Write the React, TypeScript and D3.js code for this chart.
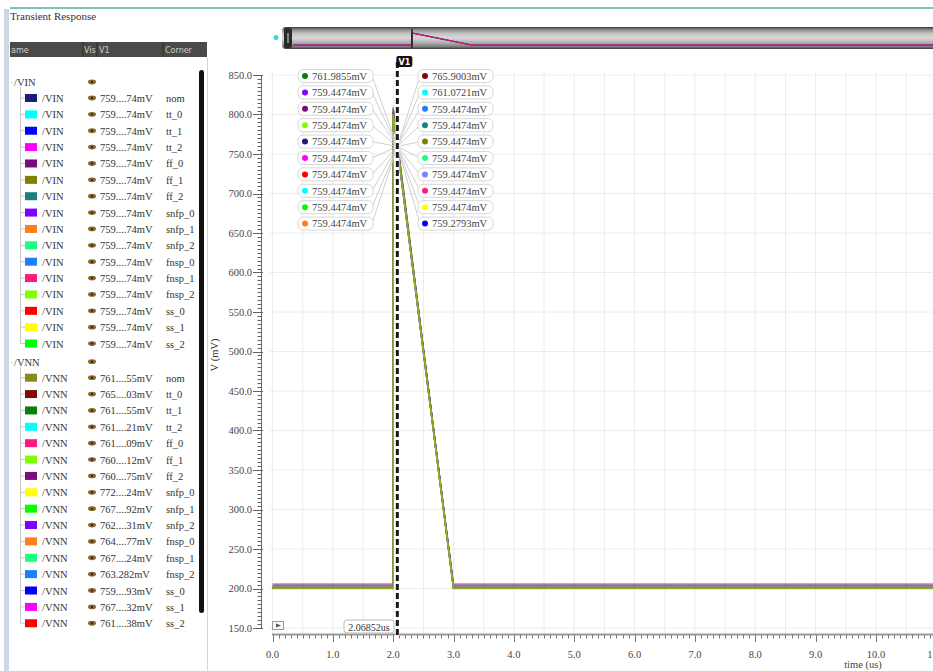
import React from 'react';
import * as d3 from 'd3';

// corner names shared by both signal groups
const corners = ['nom', 'tt_0', 'tt_1', 'tt_2', 'ff_0', 'ff_1', 'ff_2', 'snfp_0', 'snfp_1', 'snfp_2', 'fnsp_0', 'fnsp_1', 'fnsp_2', 'ss_0', 'ss_1', 'ss_2'];

const vinColors = ['#1c1c7c', '#00ffff', '#0000ff', '#ff00ff', '#7c0a7c', '#808000', '#1a7f7f', '#7f00ff', '#ff7f1a', '#1aff80', '#1a80ff', '#ff1a80', '#80ff00', '#ff0000', '#ffff00', '#00ff00'];
const vinValues = ['759....74mV', '759....74mV', '759....74mV', '759....74mV', '759....74mV', '759....74mV', '759....74mV', '759....74mV', '759....74mV', '759....74mV', '759....74mV', '759....74mV', '759....74mV', '759....74mV', '759....74mV', '759....74mV'];
const vinLevels = [200.6, 200.4, 200.2, 200.6, 200.8, 200.5, 200.3, 200.7, 200.1, 200.6, 200.4, 200.8, 200.2, 200.5, 200.3, 200.6];
const vinPeaks = [800.5, 800.5, 800.5, 800.5, 800.5, 800.5, 800.5, 800.5, 800.5, 800.5, 800.5, 800.5, 800.5, 800.5, 800.5, 800.5];

const vnnColors = ['#8a8a1e', '#7f0a0a', '#0a7f0a', '#00ffff', '#ff1a80', '#80ff00', '#7f0a7f', '#ffff00', '#00ff00', '#7f00ff', '#ff7f1a', '#1aff80', '#1a80ff', '#0000ff', '#ff00ff', '#ff0000'];
const vnnValues = ['761....55mV', '765....03mV', '761....55mV', '761....21mV', '761....09mV', '760....12mV', '760....75mV', '772....24mV', '767....92mV', '762....31mV', '764....77mV', '767....24mV', '763.282mV', '759....93mV', '767....32mV', '761....38mV'];
const vnnLevels = [201.2, 201.6, 203.6, 201.0, 201.4, 201.2, 205.6, 201.8, 201.6, 201.4, 201.2, 201.6, 201.0, 200.8, 201.6, 201.2];
const vnnPeaks = [802.5, 807.4, 802.5, 802.0, 802.0, 801.0, 801.0, 806.0, 809.0, 803.5, 806.0, 809.0, 805.0, 800.3, 809.0, 802.5];
// plot draw order for VNN (purple and green end up on top of the flat segments)
const vnnDrawOrder = [0, 1, 3, 4, 5, 7, 8, 9, 10, 11, 12, 13, 14, 15, 6, 2];

// pulse edges (us)
const edgeTimes = [0, 2.0, 2.0, 3.0, 11.5];

const cursorTime = 2.06852;
const cursorValue = 759.4474;

const leftLabels = ['761.9855mV', '759.4474mV', '759.4474mV', '759.4474mV', '759.4474mV', '759.4474mV', '759.4474mV', '759.4474mV', '759.4474mV', '759.4474mV'];
const leftLabelColors = ['#0a7f0a', '#7f00ff', '#7c0a7c', '#80ff00', '#1c1c7c', '#ff00ff', '#ff0000', '#00ffff', '#00ff00', '#ff7f1a'];
const rightLabels = ['765.9003mV', '761.0721mV', '759.4474mV', '759.4474mV', '759.4474mV', '759.4474mV', '759.4474mV', '759.4474mV', '759.4474mV', '759.2793mV'];
const rightLabelColors = ['#7f0a0a', '#00ffff', '#1a80ff', '#1a7f7f', '#808000', '#1aff80', '#8080ff', '#ff1a80', '#ffff00', '#0000ff'];

const yTicks = [150, 200, 250, 300, 350, 400, 450, 500, 550, 600, 650, 700, 750, 800, 850];
const xTicks = [0, 1, 2, 3, 4, 5, 6, 7, 8, 9, 10, 11];

const SERIF = '"Liberation Serif", "DejaVu Serif", serif';

const App = () => {
    const svgRef = React.useRef<SVGSVGElement>(null);

    React.useEffect(() => {
        const svg = d3.select(svgRef.current);
        svg.selectAll('*').remove();

        const x = d3.scaleLinear().domain([0, 10]).range([272.5, 876]);
        const y = d3.scaleLinear().domain([150, 850]).range([628, 75]);

        const defs = svg.append('defs');
        defs.append('clipPath').attr('id', 'plotClip')
            .append('rect').attr('x', 268).attr('y', 70).attr('width', 665).attr('height', 564);
        defs.append('clipPath').attr('id', 'ovClip')
            .append('rect').attr('x', 293).attr('y', 29).attr('width', 640).attr('height', 18);
        const grad = defs.append('linearGradient').attr('id', 'barGrad')
            .attr('x1', 0).attr('y1', 0).attr('x2', 0).attr('y2', 1);
        [[0, '#3a3a36'], [0.12, '#8a8a88'], [0.3, '#c4c4c4'], [0.5, '#d8d8d8'], [0.75, '#a8a8a8'], [0.9, '#7a7a78'], [1, '#3a3a36']]
            .forEach(([o, c]) => grad.append('stop').attr('offset', o as number).attr('stop-color', c as string));

        // window frame
        svg.append('line').attr('x1', 10).attr('x2', 933).attr('y1', 8).attr('y2', 8)
            .attr('stroke', '#7ec4bc').attr('stroke-width', 2);
        svg.append('rect').attr('x', 4).attr('y', 9).attr('width', 5).attr('height', 662).attr('fill', '#cdd8e6');
        svg.append('line').attr('x1', 207.5).attr('x2', 207.5).attr('y1', 58).attr('y2', 671)
            .attr('stroke', '#d6d6d6');

        svg.append('text').attr('x', 10).attr('y', 20)
            .style('font-family', SERIF).style('font-size', '11px').attr('fill', '#333')
            .text('Transient Response');

        // ---------- left legend panel ----------
        const header = svg.append('g');
        header.append('rect').attr('x', 10).attr('y', 42).attr('width', 197).attr('height', 15).attr('fill', '#4a4a48');
        [83, 97, 163].forEach(sx => header.append('line').attr('x1', sx).attr('x2', sx).attr('y1', 42).attr('y2', 57).attr('stroke', '#2c2c2c'));
        [['ame', 11], ['Vis', 84], ['V1', 99], ['Corner', 165]].forEach(([t, hx]) =>
            header.append('text').attr('x', hx as number).attr('y', 53)
                .style('font-family', '"DejaVu Sans", sans-serif').style('font-size', '8px')
                .attr('fill', '#d0d0d0').text(t as string));

        const eye = (g: any, ex: number, ey: number) => {
            g.append('ellipse').attr('cx', ex).attr('cy', ey).attr('rx', 4).attr('ry', 2.4).attr('fill', '#8a6a34');
            g.append('circle').attr('cx', ex).attr('cy', ey).attr('r', 1.2).attr('fill', '#3a2a12');
        };

        const drawGroup = (gy: number, name: string, colors: string[], values: string[]) => {
            const g = svg.append('g').style('font-family', SERIF).style('font-size', '10.5px').attr('fill', '#333');
            const step = 16.37;
            const lastY = gy + 16 + step * (corners.length - 1);
            g.append('line').attr('x1', 20.5).attr('x2', 20.5).attr('y1', gy + 5).attr('y2', lastY)
                .attr('stroke', '#c8c8c8');
            g.append('text').attr('x', 10).attr('y', gy + 4).attr('fill', '#aaa').text('·');
            g.append('text').attr('x', 14).attr('y', gy + 4).text('/' + name);
            eye(g, 92, gy);
            corners.forEach((c, i) => {
                const ry = gy + 16 + step * i;
                g.append('line').attr('x1', 20.5).attr('x2', 25).attr('y1', ry).attr('y2', ry).attr('stroke', '#c8c8c8');
                g.append('rect').attr('x', 25).attr('y', ry - 4).attr('width', 12).attr('height', 8).attr('fill', colors[i]);
                g.append('text').attr('x', 42).attr('y', ry + 4).text('/' + name);
                eye(g, 92, ry);
                g.append('text').attr('x', 100).attr('y', ry + 4).text(values[i]);
                g.append('text').attr('x', 166).attr('y', ry + 4).text(c);
            });
        };
        drawGroup(82, 'VIN', vinColors, vinValues);
        drawGroup(361.7, 'VNN', vnnColors, vnnValues);

        svg.append('rect').attr('x', 199).attr('y', 70).attr('width', 5).attr('height', 543).attr('rx', 2.5).attr('fill', '#111');

        // ---------- plot ----------
        const grid = svg.append('g').attr('stroke', '#ececec').attr('stroke-width', 1);
        grid.selectAll('line.v').data(d3.range(0, 11.01, 0.5)).join('line').attr('class', 'v')
            .attr('x1', d => x(d)).attr('x2', d => x(d)).attr('y1', 73).attr('y2', 634);
        grid.selectAll('line.h').data(yTicks).join('line').attr('class', 'h')
            .attr('x1', 270).attr('x2', 933).attr('y1', d => y(d)).attr('y2', d => y(d));

        // y axis
        const yAxis = svg.append('g').attr('stroke', '#666').attr('stroke-width', 1);
        yAxis.append('line').attr('x1', 261.5).attr('x2', 261.5).attr('y1', y(850)).attr('y2', y(150));
        yAxis.selectAll('line.minor').data(d3.range(150, 851, 5)).join('line').attr('class', 'minor')
            .attr('x1', 257.5).attr('x2', 261.5).attr('y1', d => Math.round(y(d)) + 0.5).attr('y2', d => Math.round(y(d)) + 0.5);
        yAxis.selectAll('line.major').data(yTicks).join('line').attr('class', 'major')
            .attr('x1', 253).attr('x2', 263).attr('y1', d => Math.round(y(d)) + 0.5).attr('y2', d => Math.round(y(d)) + 0.5);
        svg.append('g').selectAll('text').data(yTicks).join('text')
            .attr('x', 252).attr('y', d => y(d) + 3.5).attr('text-anchor', 'end')
            .style('font-family', SERIF).style('font-size', '10.5px').attr('fill', '#444')
            .text(d => d3.format('.1f')(d));
        svg.append('text').attr('transform', 'translate(218,355) rotate(-90)').attr('text-anchor', 'middle')
            .style('font-family', SERIF).style('font-size', '10.5px').attr('fill', '#333').text('V (mV)');

        // x axis
        const xAxis = svg.append('g').attr('stroke', '#777');
        xAxis.append('line').attr('x1', 272).attr('x2', 933).attr('y1', 634.5).attr('y2', 634.5).attr('stroke', '#999').attr('stroke-width', 2);
        xAxis.selectAll('line.minor').data(d3.range(0, 11.05, 0.1)).join('line').attr('class', 'minor')
            .attr('x1', d => Math.round(x(d)) + 0.5).attr('x2', d => Math.round(x(d)) + 0.5).attr('y1', 635).attr('y2', 638.5);
        xAxis.selectAll('line.major').data(xTicks).join('line').attr('class', 'major')
            .attr('x1', d => Math.round(x(d)) + 0.5).attr('x2', d => Math.round(x(d)) + 0.5).attr('y1', 635).attr('y2', 642);
        svg.append('g').selectAll('text').data(xTicks).join('text')
            .attr('x', d => x(d)).attr('y', 658).attr('text-anchor', 'middle')
            .style('font-family', SERIF).style('font-size', '10.5px').attr('fill', '#444')
            .text(d => d3.format('.1f')(d));
        svg.append('text').attr('x', 863).attr('y', 668).attr('text-anchor', 'middle')
            .style('font-family', SERIF).style('font-size', '10.5px').attr('fill', '#444').text('time (us)');

        // series
        const line = d3.line<[number, number]>().x(d => x(d[0])).y(d => y(d[1]));
        const pulse = (low: number, peak: number): [number, number][] =>
            edgeTimes.map((t, i) => [t, i === 2 ? peak : low]);
        const plot = svg.append('g').attr('clip-path', 'url(#plotClip)').attr('fill', 'none');
        vnnDrawOrder.forEach(i => plot.append('path').attr('d', line(pulse(vnnLevels[i], vnnPeaks[i])))
            .attr('stroke', vnnColors[i]).attr('stroke-width', 1.2).attr('stroke-opacity', 0.75));
        vinColors.forEach((c, i) => plot.append('path').attr('d', line(pulse(vinLevels[i], vinPeaks[i])))
            .attr('stroke', c).attr('stroke-width', 1.6).attr('stroke-opacity', 0.3));

        // cursor label leaders + boxes
        const cx = x(cursorTime);
        const cy = y(cursorValue);
        const rowY = (i: number) => 76 + i * 16.4;
        const leaders = svg.append('g').attr('stroke', '#cfcfcf').attr('stroke-width', 1);
        leftLabels.forEach((_, i) => leaders.append('line').attr('x1', 372).attr('y1', rowY(i)).attr('x2', cx).attr('y2', cy));
        rightLabels.forEach((_, i) => leaders.append('line').attr('x1', 420).attr('y1', rowY(i)).attr('x2', cx).attr('y2', cy));

        const labelBox = (bx: number, i: number, t: string, c: string) => {
            const g = svg.append('g');
            g.append('rect').attr('x', bx).attr('y', rowY(i) - 6.5).attr('width', 75).attr('height', 13).attr('rx', 5)
                .attr('fill', '#fff').attr('stroke', '#d8d8d8');
            g.append('circle').attr('cx', bx + 7).attr('cy', rowY(i)).attr('r', 3).attr('fill', c);
            g.append('text').attr('x', bx + 14).attr('y', rowY(i) + 3.8)
                .style('font-family', SERIF).style('font-size', '10.5px').attr('fill', '#444').text(t);
        };
        leftLabels.forEach((t, i) => labelBox(298, i, t, leftLabelColors[i]));
        rightLabels.forEach((t, i) => labelBox(418, i, t, rightLabelColors[i]));

        // cursor V1
        svg.append('line').attr('x1', cx).attr('x2', cx).attr('y1', 62).attr('y2', 636)
            .attr('stroke', '#fff').attr('stroke-width', 4);
        svg.append('line').attr('x1', cx).attr('x2', cx).attr('y1', 62).attr('y2', 636)
            .attr('stroke', '#1a1a1a').attr('stroke-width', 3).attr('stroke-dasharray', '6,3');
        svg.append('rect').attr('x', cx - 1).attr('y', 56).attr('width', 16).attr('height', 11).attr('rx', 2).attr('fill', '#111');
        svg.append('text').attr('x', cx + 7).attr('y', 65).attr('text-anchor', 'middle')
            .style('font-family', '"DejaVu Sans", sans-serif').style('font-size', '8px').style('font-weight', 'bold')
            .attr('fill', '#fff').text('V1');
        svg.append('rect').attr('x', 344).attr('y', 620).attr('width', 50).attr('height', 13).attr('rx', 3)
            .attr('fill', '#fff').attr('stroke', '#bbb');
        svg.append('text').attr('x', 369).attr('y', 630.5).attr('text-anchor', 'middle')
            .style('font-family', SERIF).style('font-size', '10px').attr('fill', '#333').text(`${cursorTime}us`);
        svg.append('rect').attr('x', 272.5).attr('y', 621.5).attr('width', 11).attr('height', 8)
            .attr('fill', '#fafafa').attr('stroke', '#999');
        svg.append('path').attr('d', 'M276,623.5 L281,625.5 L276,627.5 Z').attr('fill', '#555');

        // ---------- overview bar ----------
        svg.append('rect').attr('x', 282).attr('y', 27).attr('width', 660).attr('height', 22).attr('rx', 4)
            .attr('fill', 'url(#barGrad)');
        const ox = d3.scaleLinear().domain([0, 11]).range([293, 947]);
        const oy = d3.scaleLinear().domain([200, 800]).range([45, 33]);
        const oline = d3.line<[number, number]>().x(d => ox(d[0])).y(d => oy(d[1]));
        const ov = svg.append('g').attr('clip-path', 'url(#ovClip)').attr('fill', 'none');
        vnnColors.forEach((c, i) => ov.append('path').attr('d', oline(pulse(vnnLevels[i], vnnPeaks[i])))
            .attr('stroke', c).attr('stroke-width', 1).attr('stroke-opacity', 0.6));
        svg.append('line').attr('x1', ox(2)).attr('x2', ox(2)).attr('y1', 29).attr('y2', 48)
            .attr('stroke', '#222').attr('stroke-width', 1.5);
        svg.append('rect').attr('x', 284).attr('y', 28).attr('width', 8).attr('height', 20).attr('rx', 2).attr('fill', '#2a2a28');
        svg.append('line').attr('x1', 288).attr('x2', 288).attr('y1', 33).attr('y2', 43).attr('stroke', '#ddd');
        svg.append('circle').attr('cx', 276).attr('cy', 37.5).attr('r', 2.5).attr('fill', '#3cd8e0');
    }, []);

    return (
        <svg ref={svgRef} width={933} height={671}
            style={{ position: 'absolute', left: 0, top: 0, background: '#fff' }} />
    );
};

export default App;
